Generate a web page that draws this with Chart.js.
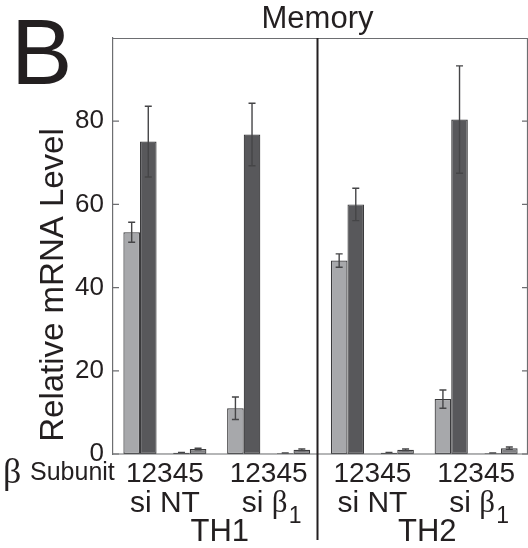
<!DOCTYPE html>
<head>
    <meta charset="utf-8">
    <style>
        body { margin: 0; background: #fff; }
    </style>
</head>

<body>
    <canvas id="memoryChart" width="528" height="548"></canvas>
</body>

<script src="https://cdn.jsdelivr.net/npm/chart.js"></script>

<script>

// groups along the x axis (cell type / siRNA)
var groups = ['TH1 si NT', 'TH1 si β1', 'TH2 si NT', 'TH2 si β1']
var cellTypes = ['TH1', 'TH2']

// relative mRNA level per beta subunit, one value per group
var beta1 = [53.3, 11.0, 46.5, 13.2]
var beta2 = [75.1, 76.8, 60.0, 80.4]
var beta3 = [0.05, 0.05, 0.05, 0.05]
var beta4 = [0.3, 0.2, 0.3, 0.2]
var beta5 = [1.2, 1.0, 1.0, 1.4]

// error bar half-lengths
var beta1Err = [2.4, 2.7, 1.6, 2.2]
var beta2Err = [8.5, 7.5, 3.9, 12.9]
var beta3Err = [0, 0, 0, 0]
var beta4Err = [0.05, 0.05, 0.05, 0.05]
var beta5Err = [0.2, 0.2, 0.2, 0.3]

var yTicks = [0, 20, 40, 60, 80]

var sans = '"Liberation Sans", Arial, sans-serif'
var serif = '"Liberation Serif", "DejaVu Serif", serif'
var ink = '#231f20'

function makeSet(label, values, errors, fill) {
    return {
        label: label,
        data: values,
        errors: errors,
        backgroundColor: fill,
        borderColor: '#3a3a3c',
        borderWidth: 1.2,
        borderSkipped: false,
        categoryPercentage: 0.8,
        barPercentage: 1.0
    }
}

// error bars drawn from the bar elements and the y scale
var errorBars = {
    id: 'errorBars',
    afterDatasetsDraw: function(chart) {
        var ctx = chart.ctx
        var y = chart.scales.y
        ctx.save()
        ctx.strokeStyle = '#454547'
        ctx.lineWidth = 1.4
        chart.data.datasets.forEach(function(ds, i) {
            var meta = chart.getDatasetMeta(i)
            meta.data.forEach(function(bar, j) {
                var e = ds.errors[j]
                if (!e) return
                var top = y.getPixelForValue(ds.data[j] + e)
                var bottom = y.getPixelForValue(ds.data[j] - e)
                ctx.beginPath()
                ctx.moveTo(bar.x, top)
                ctx.lineTo(bar.x, bottom)
                ctx.moveTo(bar.x - 3.5, top)
                ctx.lineTo(bar.x + 3.5, top)
                ctx.moveTo(bar.x - 3.5, bottom)
                ctx.lineTo(bar.x + 3.5, bottom)
                ctx.stroke()
            })
        })
        ctx.restore()
    }
}

// frame, inward ticks, divider and all the labels around the plot
var decorations = {
    id: 'decorations',
    afterDraw: function(chart) {
        var ctx = chart.ctx
        var area = chart.chartArea
        var x = chart.scales.x
        var y = chart.scales.y
        ctx.save()

        // frame
        ctx.strokeStyle = '#6d6e71'
        ctx.lineWidth = 1.2
        ctx.beginPath()
        ctx.moveTo(area.left, area.top + 0.5)
        ctx.lineTo(area.right, area.top + 0.5)
        ctx.moveTo(area.right - 0.5, area.top)
        ctx.lineTo(area.right - 0.5, area.bottom)
        ctx.moveTo(area.left, area.bottom)
        ctx.lineTo(area.right, area.bottom)
        ctx.stroke()

        // inward tick marks on both sides
        yTicks.forEach(function(t) {
            var py = y.getPixelForValue(t)
            ctx.beginPath()
            ctx.moveTo(area.left - 1, py)
            ctx.lineTo(area.left + 6, py)
            ctx.moveTo(area.right - 6, py)
            ctx.lineTo(area.right, py)
            ctx.stroke()
        })

        // divider between TH1 and TH2
        var mid = (x.getPixelForValue(1) + x.getPixelForValue(2)) / 2 - 3
        ctx.strokeStyle = '#231f20'
        ctx.lineWidth = 2
        ctx.beginPath()
        ctx.moveTo(mid, area.top)
        ctx.lineTo(mid, 540)
        ctx.stroke()

        ctx.fillStyle = ink

        // panel letter and title
        ctx.textAlign = 'left'
        ctx.textBaseline = 'alphabetic'
        ctx.font = '92px ' + sans
        ctx.fillText('B', 11, 84)
        ctx.textAlign = 'center'
        ctx.font = '31px ' + sans
        ctx.fillText('Memory', mid, 28)

        // y axis title
        ctx.save()
        ctx.translate(63, 285)
        ctx.rotate(-Math.PI / 2)
        ctx.font = '33px ' + sans
        ctx.fillText('Relative mRNA Level', 0, 0)
        ctx.restore()

        // beta subunit row
        ctx.textAlign = 'left'
        ctx.font = '36px ' + serif
        ctx.fillText('β', 3, 483)
        ctx.font = '25px ' + sans
        ctx.fillText('Subunit', 30, 480)

        ctx.textAlign = 'center'
        groups.forEach(function(g, i) {
            var cx = x.getPixelForValue(i)
            ctx.font = '28px ' + sans
            ctx.fillText('12345', cx, 482)
            ctx.font = '30px ' + sans
            if (i % 2 === 0) {
                ctx.fillText('si NT', cx, 512)
            } else {
                ctx.textAlign = 'left'
                var w = ctx.measureText('si ').width
                ctx.fillText('si ', cx - 27, 512)
                ctx.font = '31px ' + serif
                ctx.fillText('β', cx - 27 + w, 512)
                ctx.font = '23px ' + sans
                ctx.fillText('1', cx + 20, 523)
                ctx.textAlign = 'center'
            }
        })

        ctx.font = '31px ' + sans
        cellTypes.forEach(function(c, k) {
            var cx = (x.getPixelForValue(2 * k) + x.getPixelForValue(2 * k + 1)) / 2 + 3
            ctx.fillText(c, cx, 541)
        })

        ctx.restore()
    }
}

var ctx = document.getElementById('memoryChart').getContext('2d')

var memoryChart = new Chart(ctx, {
    type: 'bar',
    data: {
        labels: groups,
        datasets: [
            makeSet('β1', beta1, beta1Err, '#a7a8ab'),
            makeSet('β2', beta2, beta2Err, '#58585b'),
            makeSet('β3', beta3, beta3Err, '#a7a8ab'),
            makeSet('β4', beta4, beta4Err, '#a7a8ab'),
            makeSet('β5', beta5, beta5Err, '#808083')
        ]
    },
    options: {
        responsive: false,
        animation: false,
        layout: { padding: { left: 0, top: 38, right: 0, bottom: 94 } },
        plugins: {
            legend: { display: false },
            tooltip: { enabled: false }
        },
        scales: {
            x: { display: false },
            y: {
                min: 0,
                max: 100,
                afterFit: function(scale) { scale.width = 113 },
                afterBuildTicks: function(scale) {
                    scale.ticks = yTicks.map(function(v) { return { value: v } })
                },
                grid: { display: false, drawTicks: false },
                border: { display: true, color: '#6d6e71', width: 1.2 },
                ticks: {
                    padding: 9,
                    color: ink,
                    font: { size: 26, family: sans }
                }
            }
        }
    },
    plugins: [errorBars, decorations]
});

</script>
</html>
